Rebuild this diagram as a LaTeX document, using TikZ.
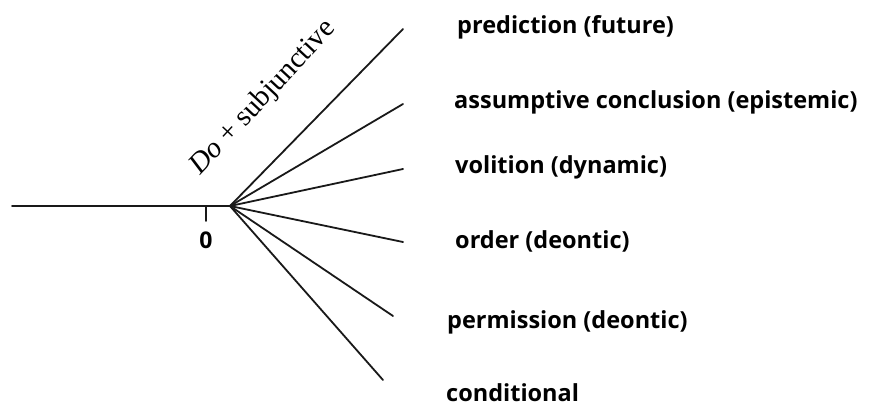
\documentclass[tikz,border=0pt]{standalone}
\usepackage{fontspec}
\setmainfont{Liberation Serif}
\newfontfamily\labfont{Open Sans}
\begin{document}
\begin{tikzpicture}[x=1pt,y=-1pt,
  branch/.style={draw, color=black!90, line width=1.8pt, line cap=round},
  lab/.style={anchor=base west, inner sep=0pt, font=\labfont\bfseries\fontsize{23.5}{26}\selectfont},
  zero/.style={inner sep=0pt, font=\labfont\bfseries\fontsize{23}{25}\selectfont}]
\useasboundingbox (0,0) rectangle (872,405);
\coordinate (start) at (12,206);
\coordinate (o) at (230,206);
\coordinate (tk1) at (206,207);
\coordinate (tk2) at (206,221);
\coordinate (e1) at (403,29);
\coordinate (e2) at (403,104);
\coordinate (e3) at (403,169);
\coordinate (e4) at (403,242);
\coordinate (e5) at (393,316);
\coordinate (e6) at (383,380);
\draw[branch] (start) -- (o);
\draw[branch] (tk1) -- (tk2);
\foreach \e in {e1,e2,e3,e4,e5,e6} \draw[branch] (o) -- (\e);
\node[zero] (zero) at (206,240) {0};
\node[anchor=base west, inner sep=0pt, rotate=47, font=\fontsize{29}{31}\selectfont] (do) at (200,176) {\textit{Do} + subjunctive};
\node[lab] (l1) at (457,33) {prediction (future)};
\node[lab] (l2) at (454,108) {assumptive conclusion (epistemic)};
\node[lab] (l3) at (455,173) {volition (dynamic)};
\node[lab] (l4) at (455,248) {order (deontic)};
\node[lab] (l5) at (447,328) {permission (deontic)};
\node[lab] (l6) at (446,401) {conditional};
\end{tikzpicture}
\end{document}
